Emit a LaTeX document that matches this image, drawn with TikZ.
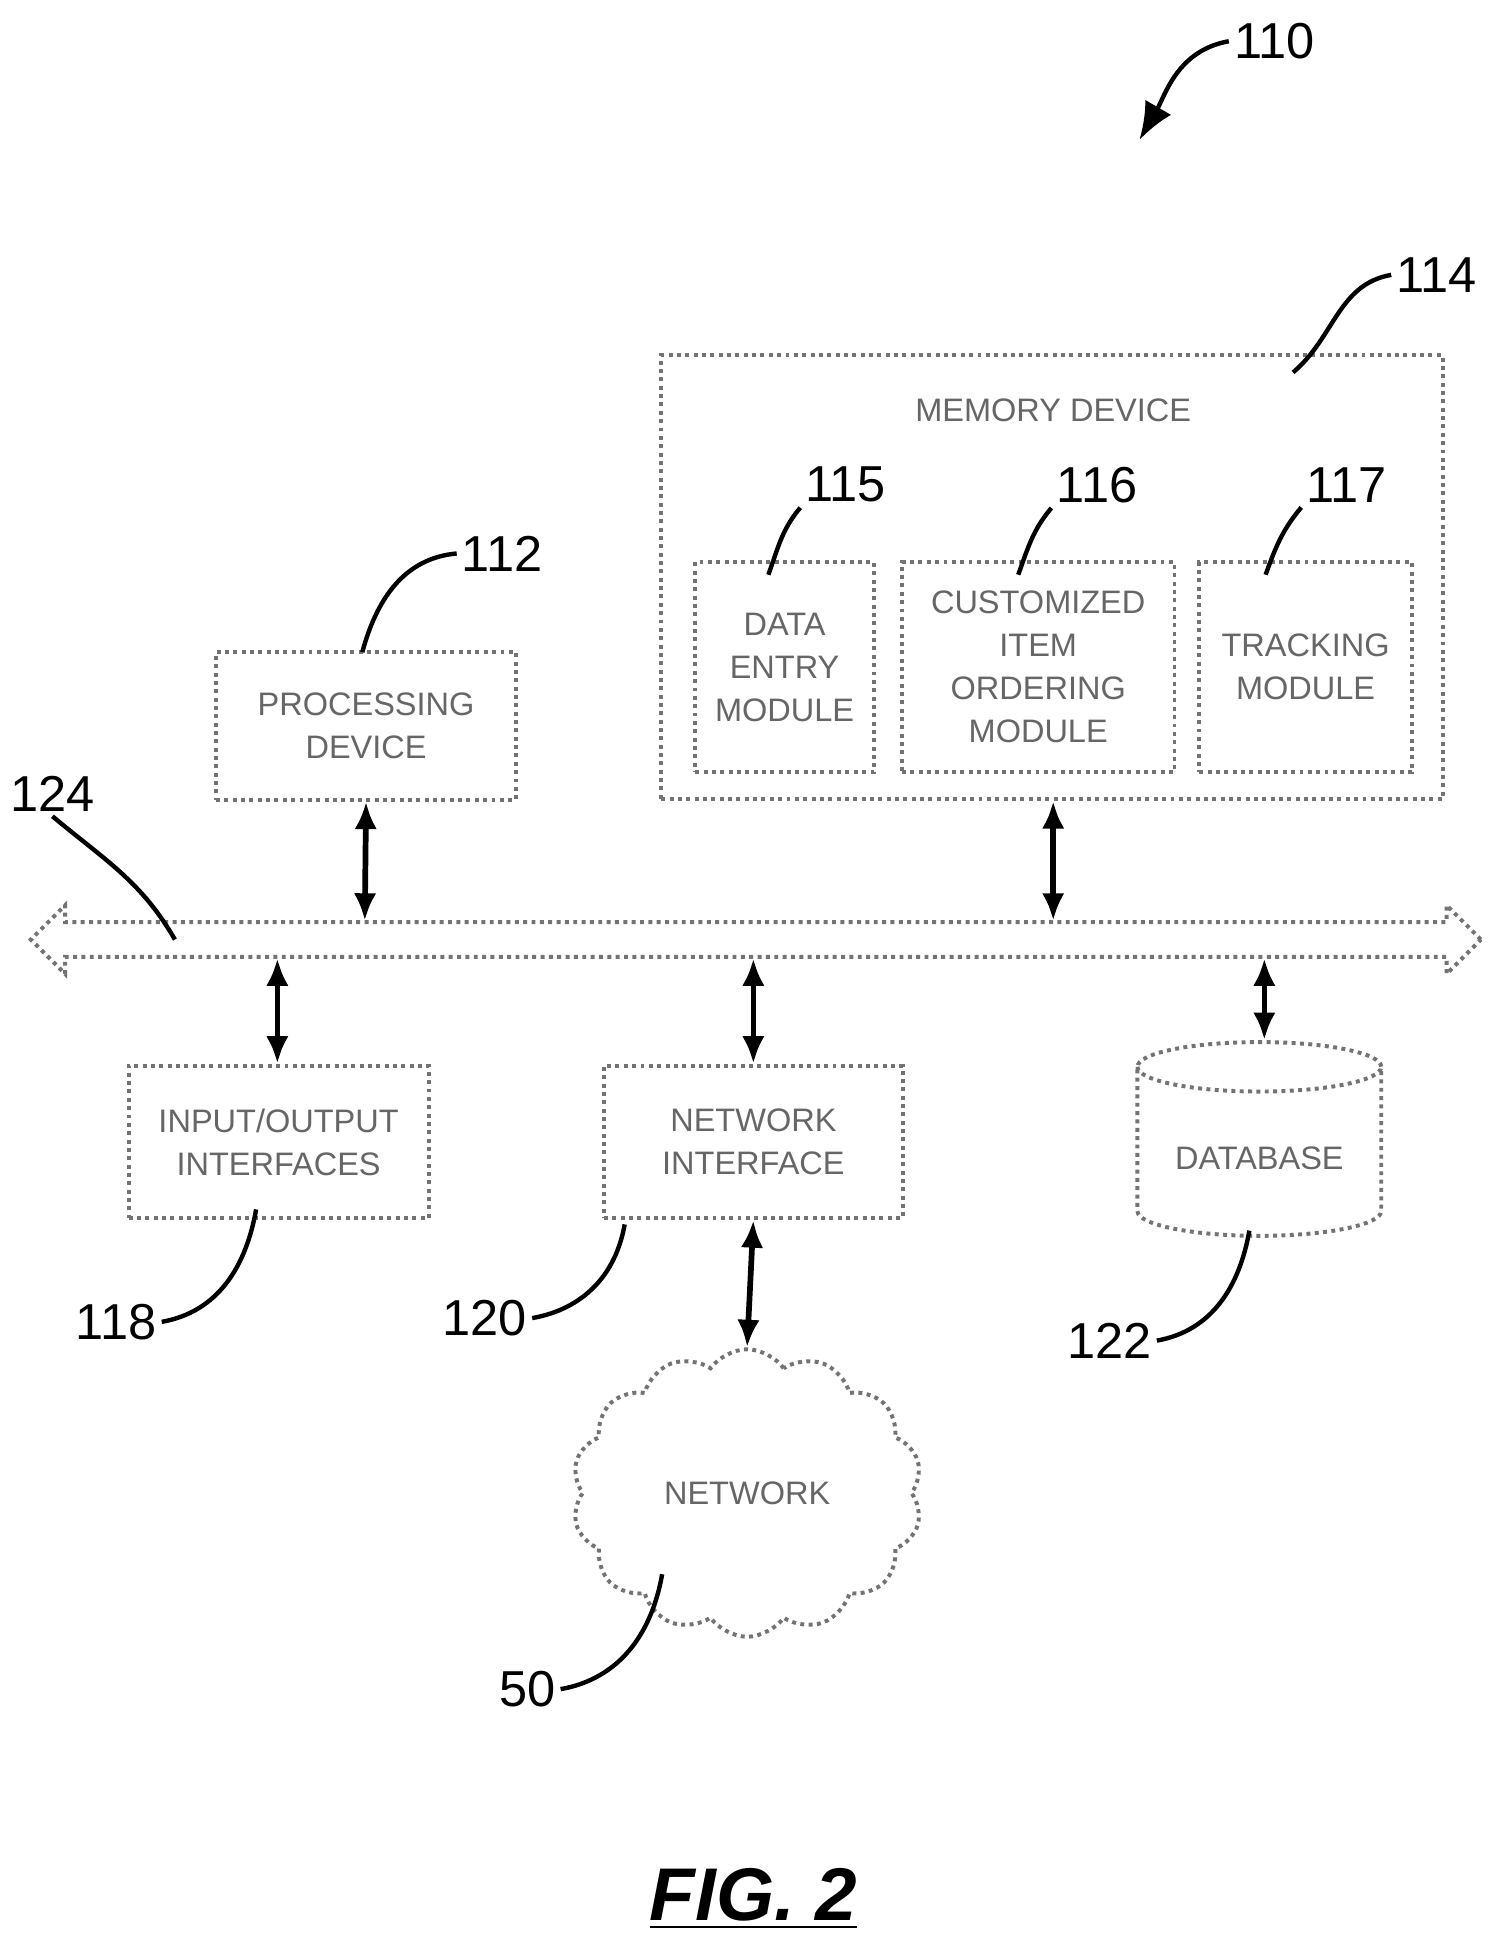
\documentclass[tikz,border=0pt]{standalone}
\usepackage{fontspec}
\setmainfont{Liberation Sans}
\usetikzlibrary{shapes.geometric,shapes.symbols,shapes.arrows,arrows.meta}
\tikzset{
  box/.style={draw=black!55, line width=0.9pt, densely dotted, align=center, font=\fontsize{7.4}{9.8}\selectfont, text=black!60},
  link/.style={{Latex[length=2.2mm,width=1.8mm]}-{Latex[length=2.2mm,width=1.8mm]}, line width=1.3pt},
  lead/.style={line width=1pt},
  num/.style={font=\fontsize{11.5}{14}\selectfont, inner sep=1pt}
}
\begin{document}
\begin{tikzpicture}[x=0.01cm, y=-0.01cm]
\useasboundingbox (0,0) rectangle (1200,1568);
% memory device and its modules
\node[box, minimum width=6.25cm, minimum height=3.55cm] (mem) at (842,462) {};
\node[font=\fontsize{7.4}{9.8}\selectfont, text=black!60] (memlbl) at (843,328) {MEMORY DEVICE};
\node[box, minimum width=1.43cm, minimum height=1.68cm] (entry) at (628,534) {DATA\\ENTRY\\MODULE};
\node[box, minimum width=2.18cm, minimum height=1.68cm] (order) at (831,534) {CUSTOMIZED\\ITEM\\ORDERING\\MODULE};
\node[box, minimum width=1.70cm, minimum height=1.68cm] (track) at (1045,534) {TRACKING\\MODULE};
\node[box, minimum width=2.40cm, minimum height=1.18cm] (proc) at (293,581) {PROCESSING\\DEVICE};
% bus
\node[double arrow, draw=black!55, line width=0.9pt, densely dotted, minimum height=11.6cm,
  minimum width=0.55cm, double arrow head extend=0.13cm] (bus) at (605,752) {};
% lower row
\node[box, minimum width=2.40cm, minimum height=1.22cm] (io) at (223,914) {INPUT/OUTPUT\\INTERFACES};
\node[box, minimum width=2.39cm, minimum height=1.22cm] (net) at (603,914) {NETWORK\\INTERFACE};
\node[box, cylinder, shape border rotate=90, aspect=0.25, minimum width=1.95cm, minimum height=1.55cm] (db) at (1008,927) {DATABASE};
\node[box, cloud, cloud puffs=14, cloud puff arc=110, aspect=1.2, minimum width=2.8cm, minimum height=2.3cm] (cloud) at (598,1195) {NETWORK};
% connectors to the bus
\coordinate (ptop) at (292,737);
\coordinate (mtop) at (843,737);
\coordinate (iob) at (222,767);
\coordinate (netb) at (603,767);
\coordinate (dbb) at (1012,767);
\draw[link] (proc.south) -- (ptop);
\draw[link] (mem.south -| mtop) -- (mtop);
\draw[link] (iob) -- (iob |- io.north);
\draw[link] (netb) -- (net.north);
\draw[link] (dbb) -- (dbb |- db.north);
\draw[link] (net.south) -- (cloud.north);
% reference numerals
\node[num] (n110) at (1020,33) {110};
\node[num] (n114) at (1150,220) {114};
\node[num] (n115) at (677,388) {115};
\node[num] (n116) at (878,388) {116};
\node[num] (n117) at (1078,388) {117};
\node[num] (n112) at (402,443) {112};
\node[num] (n124) at (42,635) {124};
\node[num] (n118) at (93,1058) {118};
\node[num] (n120) at (388,1055) {120};
\node[num] (n122) at (888,1073) {122};
\node[num] (n50) at (422,1352) {50};
\draw[lead, -{Latex[length=3mm,width=2.4mm]}] (n110.west) to[out=190, in=60] (912,112);
\draw[lead] (n114.west) to[out=190, in=40] (1035,298);
\draw[lead] (n115.south west) to[out=230, in=70] (615,460);
\draw[lead] (n116.south west) to[out=230, in=70] (815,460);
\draw[lead] (n117.south west) to[out=230, in=70] (1013,460);
\draw[lead] (n112.west) to[out=185, in=75] (290,522);
\draw[lead] (n124.south) to[out=-40, in=120] (140,752);
\draw[lead] (n118.east) to[out=10, in=-100] (205,968);
\draw[lead] (n120.east) to[out=10, in=-100] (500,980);
\draw[lead] (n122.east) to[out=10, in=-100] (1000,985);
\draw[lead] (n50.east) to[out=10, in=-100] (530,1260);
\node[font=\fontsize{17}{20}\selectfont\bfseries\itshape] (fig) at (603,1520) {\underline{FIG. 2}};
\end{tikzpicture}
\end{document}
